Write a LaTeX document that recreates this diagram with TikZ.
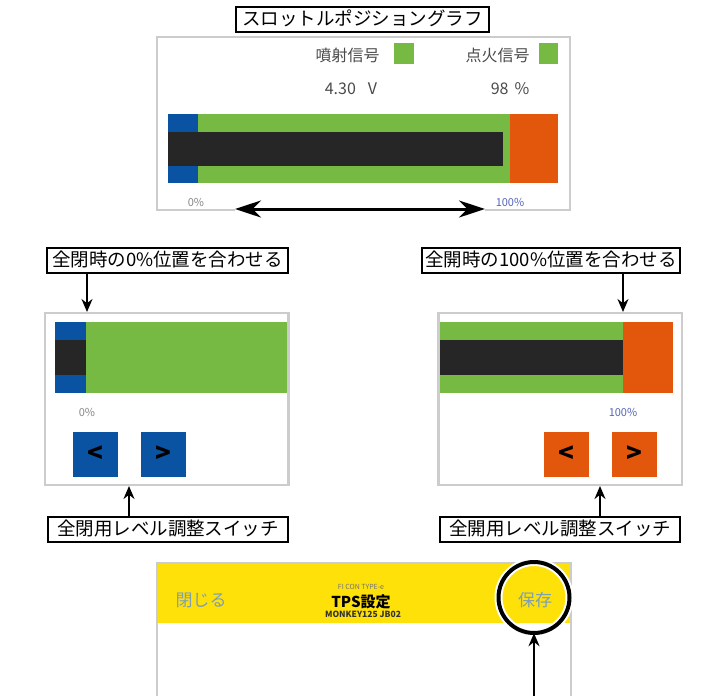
\documentclass[tikz,border=0pt]{standalone}
\usepackage{fontspec}
\setmainfont{Noto Sans CJK JP}
\usetikzlibrary{arrows.meta}
\newcommand{\fsz}[1]{\fontsize{#1}{#1}\selectfont}
\definecolor{cblue}{HTML}{0A52A2}
\definecolor{cgreen}{HTML}{76B943}
\definecolor{corange}{HTML}{E2570C}
\definecolor{cblack}{HTML}{262626}
\definecolor{cyellow}{HTML}{FFE10A}
\definecolor{cborder}{HTML}{CCCCCC}
\definecolor{ctext}{HTML}{4A4A4A}
\definecolor{cpct}{HTML}{888888}
\definecolor{cpctb}{HTML}{5566B8}
\definecolor{cnav}{HTML}{7E9EB2}
\tikzset{
  lbl/.style={draw=black, line width=2pt, fill=white, inner xsep=0pt, inner ysep=0pt,
    minimum height=25pt, font=\fsz{18.5}, text height=15pt, text depth=3pt},
  panel/.style={draw=cborder, line width=2pt, fill=white, inner sep=0pt},
  arr/.style={-{Stealth[length=13pt,width=11pt]}, line width=2pt, black},
  darr/.style={{Stealth[length=26pt,width=17pt]}-{Stealth[length=26pt,width=17pt]}, line width=3pt, black},
  btn/.style={inner sep=0pt, minimum width=45pt, minimum height=45pt, font=\fsz{26}\bfseries, text=black},
  scr/.style={font=\fsz{16}, text=ctext, inner sep=0pt},
  pct/.style={font=\fsz{11}, text=cpct, inner sep=0pt},
}
\begin{document}
\begin{tikzpicture}[x=1pt,y=-1pt]
\useasboundingbox (0,0) rectangle (705,696);
\fill[white] (0,0) rectangle (705,696);

% ---------- top panel ----------
\node[lbl, minimum width=253pt] (title) at (362.5,19.5) {スロットルポジショングラフ};
\node[panel, minimum width=413pt, minimum height=173pt] (ptop) at (363.5,123.5) {};
\node[scr] (t1) at (347.5,55) {噴射信号};
\fill[cgreen] (394,43) rectangle (414,64);
\node[scr] (t2) at (497.5,55) {点火信号};
\fill[cgreen] (539,43) rectangle (558,64);
\node[scr] (v1) at (351,89) {4.30\hspace{12pt}V};
\node[scr] (v2) at (510,89) {98\hspace{6pt}\%};
\fill[cblue] (168,114) rectangle (198,183);
\fill[cgreen] (198,114) rectangle (510,183);
\fill[corange] (510,114) rectangle (558,183);
\fill[cblack] (168,132) rectangle (503,166);
\node[pct] (p0) at (196,202) {0\%};
\node[pct, text=cpctb] (p100) at (510,202) {100\%};
\coordinate (da) at (235,209);
\coordinate (db) at (485,209);
\draw[white, line width=7pt] (da) -- (db);
\draw[darr] (da) -- (db);

% ---------- left panel ----------
\node[lbl, minimum width=241pt] (l0) at (167.5,260.5) {全閉時の0\%位置を合わせる};
\node[panel, minimum width=243pt, minimum height=172pt] (pl) at (166.5,399) {};
\fill[cgreen] (86,322) rectangle (287,393);
\fill[cblue] (55,322) rectangle (86,393);
\fill[cblack] (55,340) rectangle (86,375);
\draw[cborder, line width=2pt] (pl.north east) -- (pl.south east);
\node[pct] (lp0) at (87,412) {0\%};
\node[btn, fill=cblue] (lb1) at (95,454.5) {<};
\node[btn, fill=cblue] (lb2) at (163,454.5) {>};
\node[lbl, minimum width=240pt] (l1) at (168,529.5) {全閉用レベル調整スイッチ};
\coordinate (xl0) at (87,0);
\coordinate (xl1) at (129,0);
\draw[arr] (l0.south -| xl0) -- (pl.north -| xl0);
\draw[arr] (l1.north -| xl1) -- (pl.south -| xl1);

% ---------- right panel ----------
\node[lbl, minimum width=258pt] (r0) at (551,260.5) {全開時の100\%位置を合わせる};
\node[panel, minimum width=243pt, minimum height=172pt] (pr) at (560.5,399) {};
\fill[cgreen] (440,322) rectangle (623,393);
\fill[corange] (623,322) rectangle (673,393);
\fill[cblack] (440,340) rectangle (623,375);
\draw[cborder, line width=2pt] (pr.north west) -- (pr.south west);
\node[pct, text=cpctb] (rp100) at (623,412) {100\%};
\node[btn, fill=corange] (rb1) at (566,454.5) {<};
\node[btn, fill=corange] (rb2) at (634.5,454.5) {>};
\node[lbl, minimum width=240pt] (r1) at (560,529.5) {全開用レベル調整スイッチ};
\coordinate (xr0) at (623,0);
\coordinate (xr1) at (600,0);
\draw[arr] (r0.south -| xr0) -- (pr.north -| xr0);
\draw[arr] (r1.north -| xr1) -- (pr.south -| xr1);

% ---------- bottom panel ----------
\fill[cyellow] (157,564) rectangle (571,623);
\draw[cborder, line width=2pt] (157,700) -- (157,563) -- (571,563) -- (571,700);
\node[font=\fsz{17}, text=cnav, inner sep=0pt] (close) at (201,600) {閉じる};
\node[font=\fsz{7}, text=black!55, inner sep=0pt] (fi) at (361,587) {FI CON TYPE-e};
\node[font=\fsz{15}\bfseries, text=black, inner sep=0pt] (tps) at (361,602) {TPS設定};
\node[font=\fsz{8.5}\bfseries, text=black!80, inner sep=0pt] (mk) at (363,614.5) {MONKEY125 JB02};
\node[font=\fsz{17}, text=cnav, inner sep=0pt] (save) at (535,600) {保存};
\node[circle, minimum size=71pt, inner sep=0pt] (ring) at (534,597.5) {};
\draw[white, line width=8pt] (ring.center) circle (35.5pt);
\draw[black, line width=4pt] (ring.center) circle (35.5pt);
\coordinate (abot) at (534,700);
\draw[arr] (abot) -- (ring.south);
\end{tikzpicture}
\end{document}
